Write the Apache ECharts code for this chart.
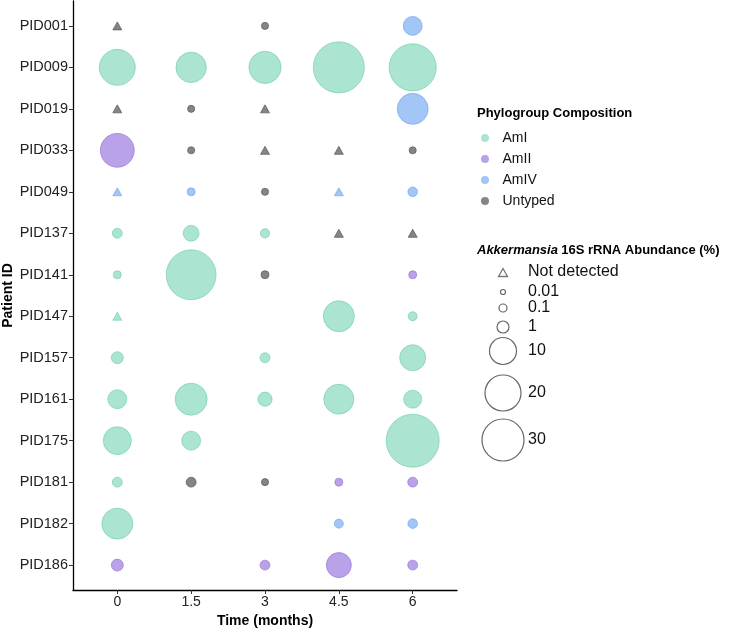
<!DOCTYPE html>
<html>
<head>
<meta charset="utf-8">
<script src="https://cdn.jsdelivr.net/npm/echarts@6/dist/echarts.min.js"></script>
<style>html,body{margin:0;padding:0;background:#fff}#c{width:750px;height:629px}</style>
</head>
<body>
<div id="c"></div>
<script>
// ---- data ----
const timepoints = ['0', '1.5', '3', '4.5', '6'];
const patients = ['PID001','PID009','PID019','PID033','PID049','PID137','PID141','PID147','PID157','PID161','PID175','PID181','PID182','PID186'];
const groups = ['AmI', 'AmII', 'AmIV', 'Untyped'];
// [time, patient, abundance %] ; 0 = not detected
const amI = [
  ['0','PID009',20], ['1.5','PID009',13], ['3','PID009',15], ['4.5','PID009',49], ['6','PID009',40],
  ['0','PID137',0.3], ['1.5','PID137',1.8], ['3','PID137',0.2],
  ['0','PID141',0.1], ['1.5','PID141',46],
  ['0','PID147',0], ['4.5','PID147',13.6], ['6','PID147',0.18],
  ['0','PID157',1], ['3','PID157',0.3], ['6','PID157',8.6],
  ['0','PID161',2.9], ['1.5','PID161',14.7], ['3','PID161',1.4], ['4.5','PID161',12.6], ['6','PID161',2.5],
  ['0','PID175',10.8], ['1.5','PID175',2.9], ['6','PID175',53.7],
  ['0','PID181',0.3],
  ['0','PID182',13.6]
];
const amII = [
  ['0','PID033',17], ['6','PID141',0.1],
  ['4.5','PID181',0.1], ['6','PID181',0.3],
  ['0','PID186',1], ['3','PID186',0.3], ['4.5','PID186',7.4], ['6','PID186',0.3]
];
const amIV = [
  ['6','PID001',2.9], ['6','PID019',13.6],
  ['0','PID049',0], ['1.5','PID049',0.1], ['4.5','PID049',0], ['6','PID049',0.25],
  ['4.5','PID182',0.18], ['6','PID182',0.25]
];
const untyped = [
  ['0','PID001',0], ['3','PID001',0.05],
  ['0','PID019',0], ['1.5','PID019',0.05], ['3','PID019',0],
  ['1.5','PID033',0.05], ['3','PID033',0], ['4.5','PID033',0], ['6','PID033',0.05],
  ['3','PID049',0.05],
  ['4.5','PID137',0], ['6','PID137',0],
  ['3','PID141',0.1],
  ['1.5','PID181',0.3], ['3','PID181',0.05]
];
const sizeBreakLabels = ['0.01', '0.1', '1', '10', '20', '30'];

// ---- styles ----
const groupFill = ['rgba(102,205,170,0.55)', 'rgba(147,112,219,0.65)', 'rgba(100,160,240,0.6)', 'rgba(112,112,112,0.85)'];
const groupBorder = ['rgba(102,205,170,0.75)', 'rgba(147,112,219,0.8)', 'rgba(100,160,240,0.75)', 'rgba(90,90,90,0.9)'];
const sizeDiam = [5, 8, 12, 27, 36, 42];

function diam(v) {
  const b = sizeBreakLabels.map(Number);
  if (v <= b[0]) return sizeDiam[0];
  if (v >= b[b.length - 1]) return sizeDiam[sizeDiam.length - 1] * Math.pow(v / b[b.length - 1], 0.4);
  for (let i = 0; i < b.length - 1; i++) {
    if (v <= b[i + 1]) {
      const t = (Math.log10(v) - Math.log10(b[i])) / (Math.log10(b[i + 1]) - Math.log10(b[i]));
      return sizeDiam[i] + t * (sizeDiam[i + 1] - sizeDiam[i]);
    }
  }
}

const groupData = [amI, amII, amIV, untyped];
const FONT = '"Liberation Sans", Arial, Helvetica, sans-serif';

const series = groups.map((g, gi) => ({
  name: g,
  type: 'scatter',
  itemStyle: { color: groupFill[gi], borderColor: groupBorder[gi], borderWidth: 0.8, opacity: 1 },
  emphasis: { disabled: true },
  data: groupData[gi].map(d => ({
    value: [timepoints.indexOf(d[0]), patients.indexOf(d[1]), d[2]],
    symbol: d[2] === 0 ? 'triangle' : 'circle',
    symbolSize: d[2] === 0 ? [9, 8] : diam(d[2])
  }))
}));

// size legend graphics
const legX = 503, txtX = 528;
const legY = [292, 308, 327, 351, 393, 440];
const graphic = [
  { type: 'text', left: 477, top: 107, style: { text: 'Phylogroup Composition', font: 'bold 13px ' + FONT, fill: '#000' } },
  { type: 'text', left: 477, top: 244, style: {
      text: '{i|Akkermansia} {b|16S rRNA Abundance (%)}',
      rich: { i: { font: 'italic bold 13px ' + FONT, fill: '#000' }, b: { font: 'bold 13px ' + FONT, fill: '#000' } } } },
  { type: 'polygon', shape: { points: [[legX, 268.5], [legX - 4.5, 276.5], [legX + 4.5, 276.5]] },
    style: { fill: 'none', stroke: '#777', lineWidth: 1.3 } },
  { type: 'text', x: txtX, y: 272, style: { text: 'Not detected', font: '16px ' + FONT, fill: '#111', textVerticalAlign: 'middle' } }
];
sizeBreakLabels.forEach((lab, i) => {
  const r = diam(Number(lab)) / 2;
  graphic.push({ type: 'circle', shape: { cx: legX, cy: legY[i], r: r }, style: { fill: 'none', stroke: '#666', lineWidth: 1.2 } });
  graphic.push({ type: 'text', x: txtX, y: legY[i], style: { text: lab, font: '16px ' + FONT, fill: '#111', textVerticalAlign: 'middle' } });
});

const option = {
  animation: false,
  textStyle: { fontFamily: FONT },
  grid: { left: 73, right: 293, top: 1, bottom: 39, containLabel: false, outerBoundsMode: 'none' },
  xAxis: {
    type: 'value', min: -0.6, max: 4.6,
    axisLine: { onZero: false, lineStyle: { color: '#000', width: 1.3 } },
    axisTick: { customValues: [0, 1, 2, 3, 4], length: 4, lineStyle: { color: '#333' } },
    axisLabel: { customValues: [0, 1, 2, 3, 4], formatter: v => timepoints[Math.round(v)], fontSize: 14, color: '#222', margin: 5 },
    splitLine: { show: false },
    name: 'Time (months)', nameLocation: 'middle', nameGap: 24, nameMoveOverlap: false,
    nameTextStyle: { fontWeight: 'bold', fontSize: 14, color: '#000' }
  },
  yAxis: {
    type: 'value', inverse: true, min: -0.6, max: 13.6,
    axisLine: { onZero: false, lineStyle: { color: '#000', width: 1.3 } },
    axisTick: { customValues: patients.map((p, i) => i), length: 4, lineStyle: { color: '#333' } },
    axisLabel: { customValues: patients.map((p, i) => i), formatter: v => patients[Math.round(v)], fontSize: 14.5, color: '#222', margin: 5 },
    splitLine: { show: false },
    name: 'Patient ID', nameLocation: 'middle', nameGap: 58, nameRotate: 90, nameMoveOverlap: false,
    nameTextStyle: { fontWeight: 'bold', fontSize: 14, color: '#000' }
  },
  legend: {
    data: groups, orient: 'vertical', left: 476, top: 126, icon: 'circle',
    itemWidth: 25, itemHeight: 8, itemGap: 7,
    itemStyle: { borderWidth: 0 },
    textStyle: { fontSize: 14, color: '#111', fontFamily: FONT },
    selectedMode: false
  },
  graphic: graphic,
  series: series
};

const chart = echarts.init(document.getElementById('c'), null, { renderer: 'canvas' });
chart.setOption(option);
</script>
</body>
</html>
